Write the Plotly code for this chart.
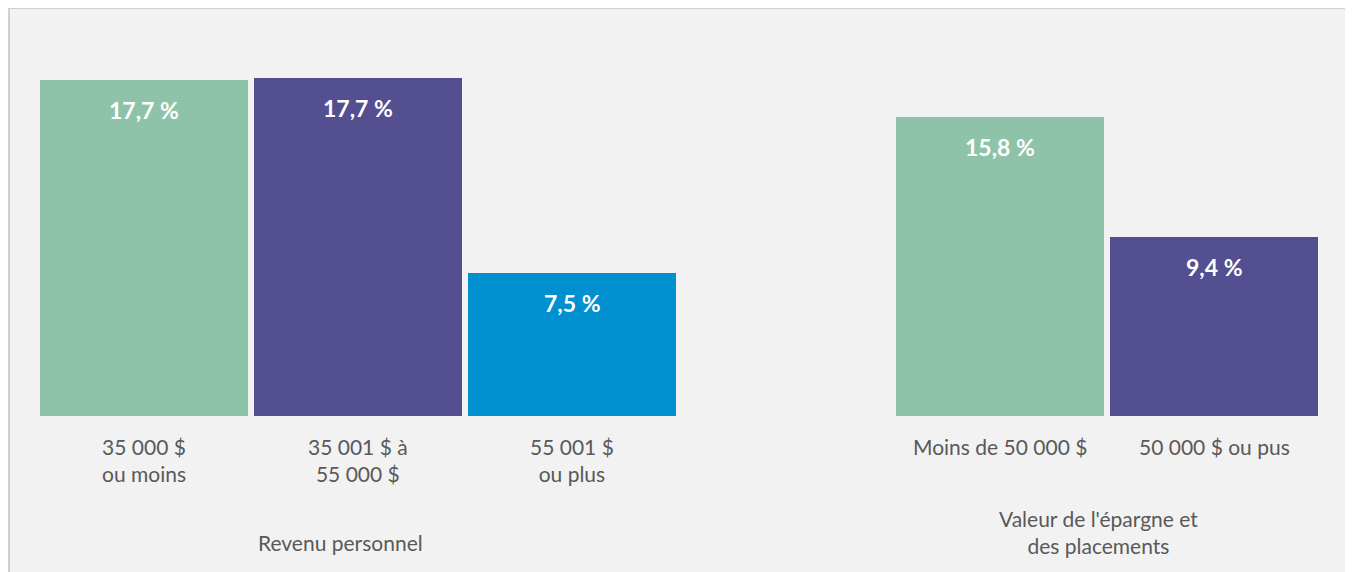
import plotly.graph_objects as go

# Data
categories = ["35 000 $<br>ou moins", "35 001 $ à<br>55 000 $", "55 001 $<br>ou plus",
              "Moins de 50 000 $", "50 000 $ ou pus"]
slots = [0, 1, 2, 4, 5]
values = [17.66, 17.74, 7.5, 15.7, 9.4]
value_labels = ["17,7 %", "17,7 %", "7,5 %", "15,8 %", "9,4 %"]
group_labels = ["Revenu personnel", "Valeur de l'épargne et<br>des placements"]

# Styling / placement
colors = ["#8ec3aa", "#534f90", "#008fcf", "#8ec3aa", "#534f90"]
group_pos = [0.92, 4.46]
group_shift = [-126, -116]

# page body has 8px margin -> figure drawn at screen offset (8, 8)
W, H = 1345, 564
ml, mr, mt, mb = 29, 32, 27, 156
pw, ph = W - ml - mr, H - mt - mb

fig = go.Figure()
fig.add_trace(go.Bar(
    x=slots, y=values, width=0.972,
    marker=dict(color=colors, line=dict(width=0)),
    hoverinfo="skip",
))

font_family = "Lato, 'Open Sans', sans-serif"

annotations = []
for s, v, t in zip(slots, values, value_labels):
    annotations.append(dict(x=s, y=v, xref="x", yref="y", text=f"<b>{t}</b>",
                            showarrow=False, yanchor="middle", yshift=-30,
                            font=dict(family=font_family, size=23, color="white")))
for s, c in zip(slots, categories):
    annotations.append(dict(x=s, y=0, xref="x", yref="y", text=c, showarrow=False,
                            yanchor="top", yshift=-16,
                            font=dict(family=font_family, size=21, color="#595959")))
for g, t, sh in zip(group_pos, group_labels, group_shift):
    annotations.append(dict(x=g, y=0, xref="x", yref="y", text=t, showarrow=False,
                            yanchor="middle", yshift=sh,
                            font=dict(family=font_family, size=21, color="#595959")))

def px_x(p):
    return (p - ml) / pw
def px_y(p):
    return 1 - (p - mt) / ph

fig.add_shape(type="rect", xref="paper", yref="paper",
              x0=px_x(1), x1=px_x(1341), y0=px_y(600), y1=px_y(0),
              fillcolor="#f2f2f2", line=dict(color="#d0d0d0", width=2), layer="below")

fig.update_layout(
    width=W, height=H,
    margin=dict(l=ml, r=mr, t=mt, b=mb),
    paper_bgcolor="white", plot_bgcolor="rgba(0,0,0,0)",
    showlegend=False,
    xaxis=dict(range=[-0.5, 5.5], showticklabels=False, showgrid=False, zeroline=False,
               fixedrange=True),
    yaxis=dict(range=[0, 20], showticklabels=False, showgrid=False, zeroline=False,
               fixedrange=True),
    annotations=annotations,
    bargap=0,
)

fig.write_html("out.html", config={"displayModeBar": False})
